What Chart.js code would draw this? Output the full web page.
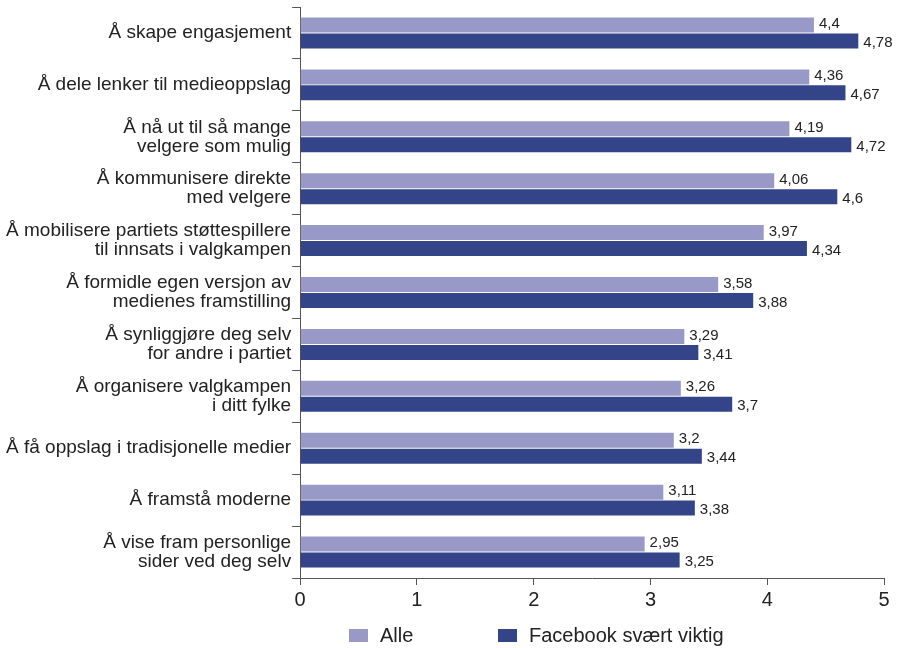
<!DOCTYPE html>
<html>
<head>
<meta charset="utf-8">
<script src="https://cdn.jsdelivr.net/npm/chart.js@4.4.1/dist/chart.umd.min.js"></script>
<style>
  body { margin: 0; background: #fff; }
  #wrap { width: 901px; height: 648px; }
</style>
</head>
<body>
<div id="wrap"><canvas id="c" width="901" height="648"></canvas></div>
<script>
// --- data ---
const categories = [
  'Å skape engasjement',
  'Å dele lenker til medieoppslag',
  ['Å nå ut til så mange', 'velgere som mulig'],
  ['Å kommunisere direkte', 'med velgere'],
  ['Å mobilisere partiets støttespillere', 'til innsats i valgkampen'],
  ['Å formidle egen versjon av', 'medienes framstilling'],
  ['Å synliggjøre deg selv', 'for andre i partiet'],
  ['Å organisere valgkampen', 'i ditt fylke'],
  'Å få oppslag i tradisjonelle medier',
  'Å framstå moderne',
  ['Å vise fram personlige', 'sider ved deg selv']
];
const alle = [4.4, 4.36, 4.19, 4.06, 3.97, 3.58, 3.29, 3.26, 3.2, 3.11, 2.95];
const facebook = [4.78, 4.67, 4.72, 4.6, 4.34, 3.88, 3.41, 3.7, 3.44, 3.38, 3.25];
const xTicks = [0, 1, 2, 3, 4, 5];

const FONT = 'Liberation Sans, Arial, sans-serif';

// verdier til høyre for stolpene
const valueLabels = {
  id: 'valueLabels',
  afterDatasetsDraw(chart) {
    const ctx = chart.ctx;
    ctx.save();
    ctx.font = '15px ' + FONT;
    ctx.fillStyle = '#222';
    ctx.textBaseline = 'middle';
    ctx.textAlign = 'left';
    chart.data.datasets.forEach((ds, i) => {
      const meta = chart.getDatasetMeta(i);
      const dy = i === 0 ? -1 : 2;
      meta.data.forEach((bar, j) => {
        ctx.fillText(String(ds.data[j]).replace('.', ','), bar.x + 5, bar.y + dy);
      });
    });
    ctx.restore();
  }
};

// legend nederst
const bottomLegend = {
  id: 'bottomLegend',
  afterDraw(chart) {
    const ctx = chart.ctx;
    const xs = [349, 498];
    ctx.save();
    ctx.font = '20px ' + FONT;
    ctx.textBaseline = 'middle';
    chart.data.datasets.forEach((ds, i) => {
      ctx.fillStyle = ds.backgroundColor;
      ctx.fillRect(xs[i], 629, 19, 13);
      ctx.fillStyle = '#222';
      ctx.fillText(ds.label, xs[i] + 31, 636);
    });
    ctx.restore();
  }
};

new Chart(document.getElementById('c'), {
  type: 'bar',
  data: {
    labels: categories,
    datasets: [
      { label: 'Alle', data: alle, backgroundColor: '#9999c7' },
      { label: 'Facebook svært viktig', data: facebook, backgroundColor: '#334488' }
    ]
  },
  options: {
    indexAxis: 'y',
    responsive: false,
    animation: false,
    devicePixelRatio: 1,
    categoryPercentage: 0.615,
    barPercentage: 0.94,
    layout: { padding: { top: 7, right: 17, bottom: 33, left: 5 } },
    plugins: { legend: { display: false }, tooltip: { enabled: false } },
    scales: {
      x: {
        min: 0, max: 5,
        afterBuildTicks: (scale) => { scale.ticks = xTicks.map(v => ({ value: v })); },
        grid: { drawOnChartArea: false, tickLength: 7, color: '#555' },
        border: { color: '#555', width: 1 },
        ticks: { font: { size: 20, family: FONT }, color: '#222', padding: 3 }
      },
      y: {
        afterFit: (scale) => { scale.paddingTop = 0; scale.paddingBottom = 0; },
        grid: { drawOnChartArea: false, tickLength: 8, color: '#555', offset: true },
        border: { color: '#555', width: 1 },
        ticks: { font: { size: 19, family: FONT, lineHeight: 1.0 }, color: '#222', padding: 1, autoSkip: false }
      }
    }
  },
  plugins: [valueLabels, bottomLegend]
});
</script>
</body>
</html>
